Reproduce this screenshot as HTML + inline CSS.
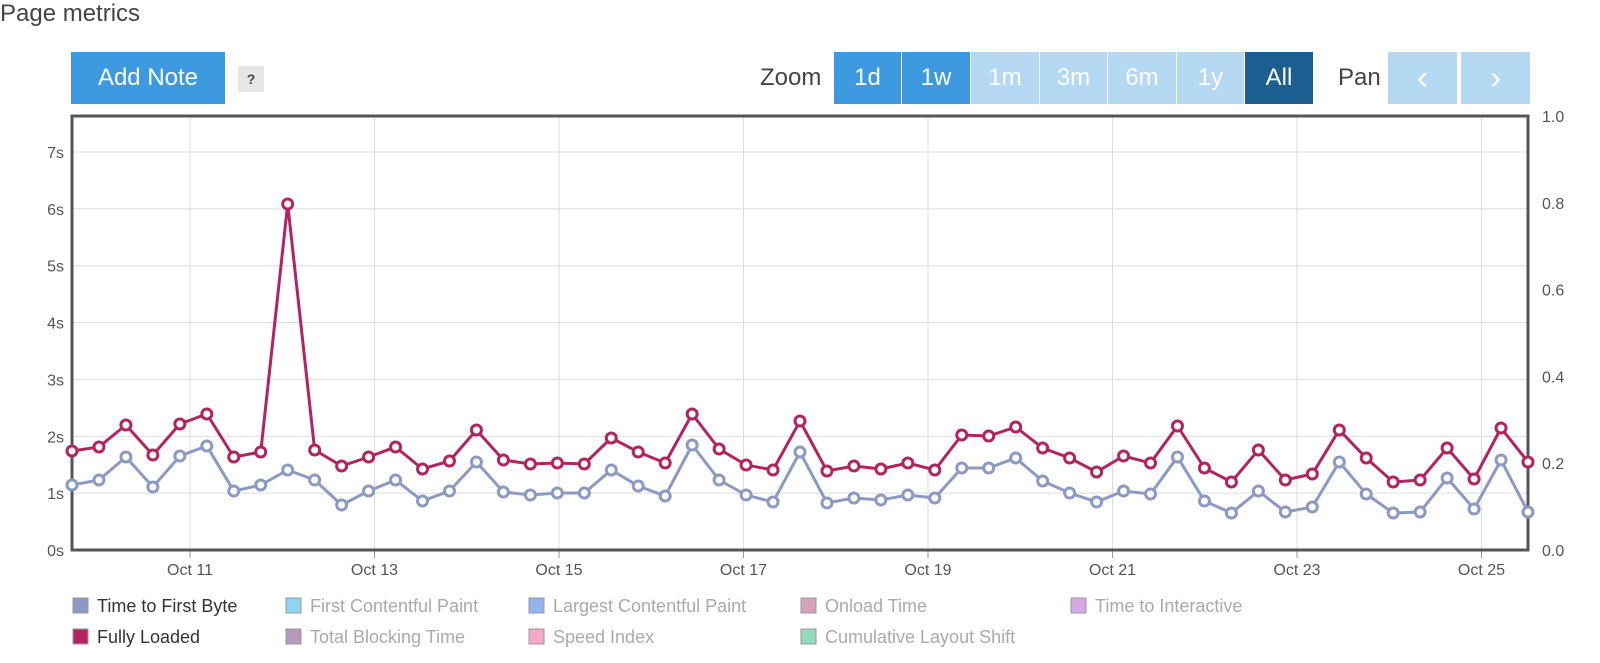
<!DOCTYPE html>
<html><head><meta charset="utf-8"><style>
body{margin:0;width:1600px;height:663px;background:#fff;font-family:"Liberation Sans",sans-serif;overflow:hidden;position:relative}
.t{position:absolute;left:0;top:0;font-size:24px;color:#444}
.btn{position:absolute;top:52px;height:52px;line-height:52px;color:#fff;font-size:24px;text-align:center}
</style></head><body>
<div class="t">Page metrics</div>
<div class="btn" style="left:71px;width:154px;background:#3d9ae0">Add Note</div>
<div style="position:absolute;left:238px;top:66px;width:26px;height:26px;background:#e6e6e6;color:#444;font-size:14px;font-weight:bold;text-align:center;line-height:26px">?</div>
<div style="position:absolute;left:760px;top:64px;font-size:24px;color:#444">Zoom</div>
<div class="btn" style="left:834px;width:67px;background:#3d9ae0">1d</div>
<div class="btn" style="left:902px;width:68px;background:#3d9ae0">1w</div>
<div class="btn" style="left:971px;width:68px;background:#b5d9f3">1m</div>
<div class="btn" style="left:1040px;width:67px;background:#b5d9f3">3m</div>
<div class="btn" style="left:1108px;width:68px;background:#b5d9f3">6m</div>
<div class="btn" style="left:1177px;width:67px;background:#b5d9f3">1y</div>
<div class="btn" style="left:1245px;width:68px;background:#1b5e8f">All</div>
<div style="position:absolute;left:1338px;top:64px;font-size:24px;color:#444">Pan</div>
<div class="btn" style="left:1388px;width:69px;background:#b5d9f3;font-size:34px">&#x2039;</div>
<div class="btn" style="left:1461px;width:69px;background:#b5d9f3;font-size:34px">&#x203A;</div>
<svg id="s" width="1600" height="663" style="position:absolute;left:0;top:0" font-family="Liberation Sans, sans-serif"></svg>
<script>
const s=document.getElementById('s');let h='';
const L=72,R=1528,T=116,B=550;
for(let i=0;i<=7;i++){const y=B-i*56.86;h+=`<line x1="${L}" x2="${R}" y1="${y}" y2="${y}" stroke="#ddd"/><text x="64" y="${y+6}" font-size="16" fill="#555" text-anchor="end">${i}s</text>`;}
for(let i=0;i<=5;i++){const y=B-i*86.8;h+=`<text x="1542" y="${y+6}" font-size="16" fill="#555">${(i*0.2).toFixed(1)}</text>`;}
const days=['Oct 11','Oct 13','Oct 15','Oct 17','Oct 19','Oct 21','Oct 23','Oct 25'];
days.forEach((d,i)=>{const x=190+i*184.5;h+=`<line x1="${x}" x2="${x}" y1="${T}" y2="${B}" stroke="#ddd"/><line x1="${x}" x2="${x}" y1="${B}" y2="${B+8}" stroke="#999"/><text x="${x}" y="575" font-size="16" fill="#555" text-anchor="middle">${d}</text>`;});
h+=`<rect x="${L}" y="${T}" width="${R-L}" height="${B-T}" fill="none" stroke="#555" stroke-width="3"/>`;
const fl=[451,447,425,455,424,414,457,452,204,450,466,457,447,469,461,430,460,464,463,464,438,452,463,414,449,465,470,421,471,466,469,463,470,435,436,427,448,458,472,456,463,426,468,482,450,480,474,430,458,482,480,448,479,428,462];
const tt=[485,480,457,487,456,446,491,485,470,480,505,491,480,501,491,462,492,495,493,493,470,486,496,445,480,495,502,452,503,498,500,495,498,468,468,458,481,493,502,491,494,457,501,513,491,512,507,462,494,513,512,478,509,460,512];
function ser(a,c){const st=(R-L)/(a.length-1);let p=a.map((v,i)=>`${L+i*st},${v}`).join(' ');let o=`<polyline points="${p}" fill="none" stroke="${c}" stroke-width="3"/>`;a.forEach((v,i)=>o+=`<circle cx="${L+i*st}" cy="${v}" r="5" fill="#fff" stroke="${c}" stroke-width="3"/>`);return o;}
h+=ser(tt,'#8c99c2');h+=ser(fl,'#b3245e');
const lg=[['Time to First Byte','#8c99c2',72,612,'#333'],['First Contentful Paint','#8fd4f5',285,612,'#aaa'],['Largest Contentful Paint','#94b4ef',528,612,'#aaa'],['Onload Time','#d6a3b8',800,612,'#aaa'],['Time to Interactive','#d4a9e6',1070,612,'#aaa'],['Fully Loaded','#b3245e',72,643,'#333'],['Total Blocking Time','#b39ab8',285,643,'#aaa'],['Speed Index','#f5a8c8',528,643,'#aaa'],['Cumulative Layout Shift','#92d9bd',800,643,'#aaa']];
lg.forEach(([t,c,x,y,tc])=>{h+=`<rect x="${x+1}" y="${y-14}" width="15" height="15" fill="${c}" stroke="#999"/><text x="${x+25}" y="${y}" font-size="18" fill="${tc}">${t}</text>`;});
s.innerHTML=h;
</script>
</body></html>
